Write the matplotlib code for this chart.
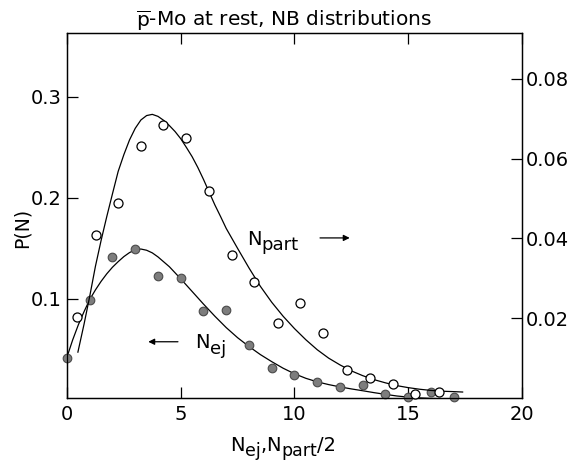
import matplotlib
matplotlib.use("Agg")
import matplotlib.pyplot as plt
from matplotlib.transforms import IdentityTransform

plt.rcParams['font.family'] = ['DejaVu Sans']
plt.rcParams['mathtext.fontset'] = 'dejavusans'

# Ejectile multiplicity N_ej (left axis)
nej_x = [0, 1, 2, 3, 4, 5, 6, 7, 8, 9, 10, 11, 12, 13, 14, 15, 16, 17]
nej_p = [0.041, 0.099, 0.141, 0.149, 0.122, 0.120, 0.0876, 0.0886, 0.0536,
         0.0315, 0.0240, 0.0177, 0.0121, 0.0141, 0.0055, 0.0022, 0.0077, 0.0022]

# NB curve for N_ej (left axis)
nej_fit_x = [0.0, 0.25, 0.5, 0.75, 1.0, 1.25, 1.5, 1.75, 2.0, 2.25, 2.5, 2.75,
             3.0, 3.25, 3.5, 3.75, 4.0, 4.5, 5.0, 5.5, 6.0, 6.5, 7.0, 7.5, 8.0,
             8.5, 9.0, 9.5, 10.0, 10.5, 11.0, 11.5, 12.0, 12.5, 13.0, 13.5,
             14.0, 14.5, 15.0, 15.5, 16.0, 16.5, 17.0]
nej_fit_p = [0.042, 0.059, 0.074, 0.087, 0.099, 0.1085, 0.117, 0.1245, 0.131,
             0.1365, 0.1415, 0.1455, 0.1482, 0.1490, 0.1478, 0.1452, 0.1412,
             0.1315, 0.1195, 0.1070, 0.0945, 0.0825, 0.0712, 0.0612, 0.0525,
             0.0445, 0.0375, 0.0310, 0.0255, 0.0210, 0.0175, 0.0148, 0.0125,
             0.0105, 0.0087, 0.0068, 0.0051, 0.0035, 0.0024, 0.0016, 0.0011,
             0.0008, 0.0006]

# Participant multiplicity N_part/2 (right axis)
npart_x = [0.44, 1.27, 2.26, 3.25, 4.24, 5.23, 6.24, 7.25, 8.24, 9.29, 10.24,
           11.27, 12.29, 13.32, 14.33, 15.3, 16.35]
npart_p = [0.0202, 0.0408, 0.0489, 0.0632, 0.0684, 0.0651, 0.0520, 0.0358,
           0.0290, 0.0189, 0.0237, 0.0163, 0.0069, 0.0050, 0.0034, 0.0010, 0.0016]

# NB curve for N_part/2 (right axis)
npart_fit_x = [0.48, 0.75, 1.0, 1.25, 1.5, 1.75, 2.0, 2.25, 2.5, 2.75, 3.0,
               3.25, 3.5, 3.75, 4.0, 4.25, 4.5, 4.75, 5.0, 5.25, 5.5, 5.75, 6.0,
               6.25, 6.5, 6.75, 7.0, 7.5, 8.0, 8.5, 9.0, 9.5, 10.0, 10.5, 11.0,
               11.5, 12.0, 12.5, 13.0, 13.5, 14.0, 14.5, 15.0, 15.5, 16.0, 16.5,
               17.0, 17.39]
npart_fit_p = [0.0115, 0.0185, 0.0255, 0.0330, 0.0395, 0.0455, 0.0512, 0.0568,
               0.0610, 0.0647, 0.0676, 0.0697, 0.0708, 0.0711, 0.0706, 0.0696,
               0.0683, 0.0668, 0.0650, 0.0628, 0.0605, 0.0578, 0.0548, 0.0516,
               0.0484, 0.0455, 0.0425, 0.0375, 0.0326, 0.0280, 0.0240, 0.0205,
               0.0174, 0.0146, 0.0121, 0.0100, 0.0083, 0.0068, 0.0056, 0.0046,
               0.0038, 0.0031, 0.0026, 0.0022, 0.0019, 0.0017, 0.0016, 0.0015]

x_ticks = [0, 5, 10, 15, 20]
left_ticks = [0.1, 0.2, 0.3]
right_ticks = [0.02, 0.04, 0.06, 0.08]

W, H = 570, 462
fig = plt.figure(figsize=(W / 100, H / 100), dpi=100)
ax = fig.add_axes([0.1175, 0.1385, 0.7983, 0.7901])
ax2 = ax.twinx()

lw = 0.9
for a in (ax, ax2):
    for s in a.spines.values():
        s.set_linewidth(lw)

ax.set_xlim(0, 20)
ax.set_ylim(0.0015, 0.3629)
ax2.set_ylim(0, 0.0915)

# N_ej: filled points + curve on the left axis
ax.plot(nej_fit_x, nej_fit_p, color='black', lw=lw, zorder=2)
ax.plot(nej_x, nej_p, 'o', ms=6.2, mfc='#7d7d7d', mec='#4a4a4a', mew=0.8,
        zorder=3, clip_on=False)

# N_part/2: open points + curve on the right axis
ax2.plot(npart_fit_x, npart_fit_p, color='black', lw=lw, zorder=2)
ax2.plot(npart_x, npart_p, 'o', ms=6.5, mfc='white', mec='black', mew=0.9,
         zorder=3, clip_on=False)

# ticks
ax.set_xticks(x_ticks)
ax.set_xticklabels([str(t) for t in x_ticks])
ax.set_yticks(left_ticks)
ax.set_yticklabels(['0.1', '0.2', '0.3'])
ax.tick_params(axis='x', direction='in', length=8, width=lw, top=True,
               labelsize=14, pad=5)
ax.tick_params(axis='y', direction='in', length=8, width=lw, left=True,
               right=False, labelsize=14, pad=3.5)
ax2.set_yticks(right_ticks)
ax2.set_yticklabels(['0.02', '0.04', '0.06', '0.08'])
ax2.tick_params(axis='y', direction='in', length=8, width=lw, right=True,
                labelsize=14, pad=2.5)

ax.set_title(r'$\overline{\mathrm{p}}$-Mo at rest, NB distributions',
             fontsize=14.5, pad=4, x=0.477)
ax.set_ylabel('P(N)', fontsize=13.5)
ax.yaxis.set_label_coords(-0.078, 0.466)


def rich_text(x, y, pieces, ha='left'):
    """Draw text pieces side by side in pixel coordinates; each piece is
    (string, fontsize, drop in pixels below the common baseline)."""
    renderer = fig.canvas.get_renderer()
    items = []
    for s, size, drop in pieces:
        t = fig.text(0, 0, s, fontsize=size, transform=IdentityTransform(),
                     ha='left', va='baseline')
        items.append((t, drop, t.get_window_extent(renderer).width))
    total = sum(w for _, _, w in items)
    x0 = x - total / 2 if ha == 'center' else x
    for t, drop, w in items:
        t.set_position((x0, y - drop))
        x0 += w


# axis title along x, with the subscripts kept large
rich_text(283, H - 451, [('N', 14, 0), ('ej', 12.5, 5), (',', 14, 0),
                         ('N', 14, 0), ('part', 12.5, 5), ('/2', 14, 0)],
          ha='center')

# curve labels with arrows pointing to the respective axes
px, py = ax.transData.transform((7.9, 0.153))
rich_text(px, py, [('N', 14, 0), ('part', 13, 5)])
ax.annotate('', xy=(12.55, 0.16), xytext=(11.0, 0.16),
            arrowprops=dict(arrowstyle='-|>', color='black', lw=0.9,
                            mutation_scale=9))
px, py = ax.transData.transform((5.63, 0.0507))
rich_text(px, py, [('N', 14, 0), ('ej', 13, 6)])
ax.annotate('', xy=(3.45, 0.0572), xytext=(5.0, 0.0572),
            arrowprops=dict(arrowstyle='-|>', color='black', lw=0.9,
                            mutation_scale=9))

fig.savefig('out.png', dpi=100)
